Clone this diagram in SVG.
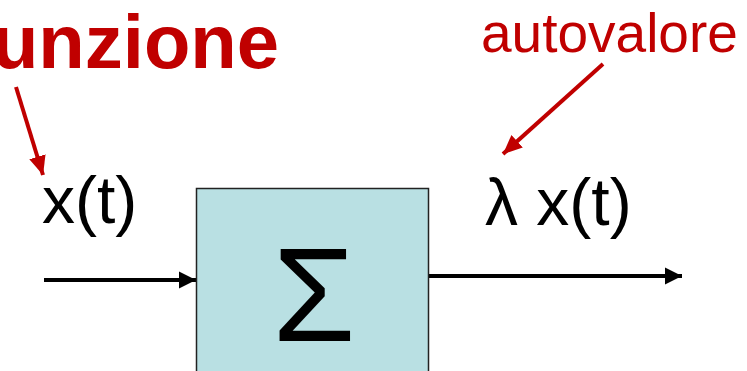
<svg xmlns="http://www.w3.org/2000/svg" width="747" height="371" viewBox="0 0 747 371">
  <defs>
    <style>
      .lbl { font-family: "Liberation Sans", Arial, sans-serif; fill: #000; }
      .red { font-family: "Liberation Sans", Arial, sans-serif; fill: #c00000; }
      .wire { stroke: #000; stroke-width: 4; fill: none; }
      .pointer { stroke: #c00000; stroke-width: 4; fill: none; }
    </style>
    <marker id="ahBlack" markerUnits="userSpaceOnUse" markerWidth="18" markerHeight="18" viewBox="0 0 18 18" refX="17" refY="9" orient="auto">
      <path d="M0,0.5 L17,9 L0,17.5 Z" fill="#000"/>
    </marker>
    <marker id="ahRed" markerUnits="userSpaceOnUse" markerWidth="20" markerHeight="18" viewBox="0 0 20 18" refX="19" refY="9" orient="auto">
      <path d="M0,0.5 L19,9 L0,17.5 Z" fill="#c00000"/>
    </marker>
  </defs>
  <rect width="747" height="371" fill="#fff"/>

  <g id="connectors">
    <line class="wire" x1="44" y1="280" x2="196" y2="280" marker-end="url(#ahBlack)"/>
    <line class="wire" x1="429" y1="276" x2="682" y2="276" marker-end="url(#ahBlack)"/>
    <line class="pointer" x1="16" y1="87" x2="43" y2="175" marker-end="url(#ahRed)"/>
    <line class="pointer" x1="603" y1="64" x2="503" y2="154" marker-end="url(#ahRed)"/>
  </g>

  <g id="system">
    <rect x="196.5" y="188.5" width="232" height="200" fill="#b9e0e3" stroke="#222" stroke-width="1.5"/>
    <text class="lbl" x="314" y="341" font-size="134" text-anchor="middle">Σ</text>
  </g>

  <g id="input-label">
    <text class="lbl" x="42" y="223" font-size="66">x(t)</text>
  </g>
  <g id="output-label">
    <text class="lbl" x="485" y="225" font-size="66">λ x(t)</text>
  </g>
  <g id="funzione">
    <text class="red" x="279" y="68" font-size="76" font-weight="bold" text-anchor="end">funzione</text>
  </g>
  <g id="autovalore">
    <text class="red" x="481" y="52" font-size="55">autovalore</text>
  </g>
</svg>
